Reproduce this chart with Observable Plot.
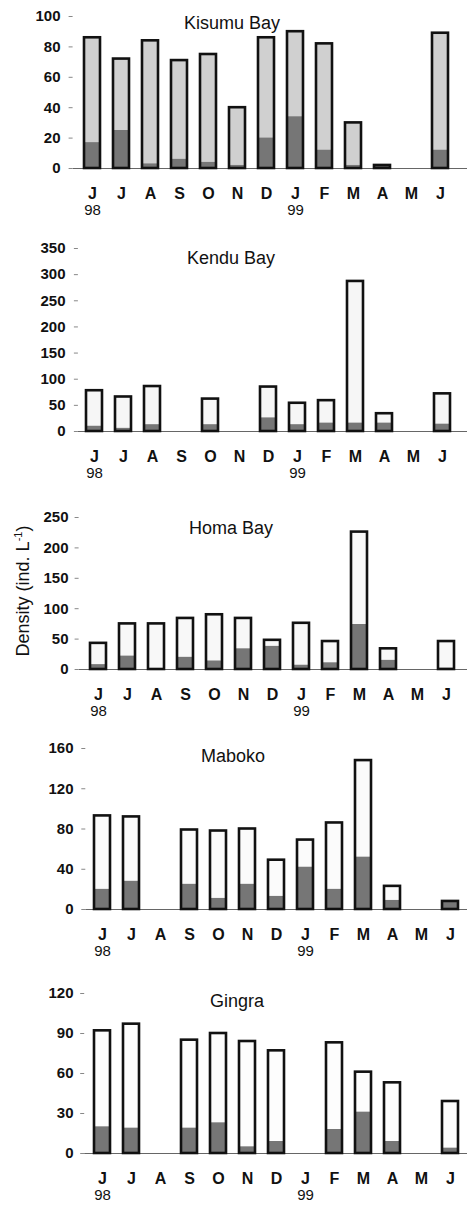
<!DOCTYPE html>
<html><head><meta charset="utf-8">
<script src="https://cdn.jsdelivr.net/npm/d3@7"></script>
<script src="https://cdn.jsdelivr.net/npm/@observablehq/plot@0.6"></script>
<style>
body{margin:0;background:#fff;font-family:"Liberation Sans",Arial,sans-serif;}
#root{position:relative;width:467px;height:1205px;overflow:hidden;}
.panel{position:absolute;left:0;}
.panel svg{overflow:visible;}
.title{position:absolute;font-size:18px;line-height:1;transform:translate(-50%,-50%);white-space:nowrap;color:#111;}
.ylab{position:absolute;font-size:18px;line-height:1;white-space:nowrap;transform:translate(-50%,-50%) rotate(-90deg);color:#111;}
.ylab sup{font-size:11px;vertical-align:7px;}
</style></head>
<body><div id="root"></div>
<script>
// ---- data ----
const months = ["Jun98","Jul98","Aug98","Sep98","Oct98","Nov98","Dec98","Jan99","Feb99","Mar99","Apr99","May99","Jun99"];
const monthLabels = ["J","J","A","S","O","N","D","J","F","M","A","M","J"];
const yearLabels = ["98","","","","","","","99","","","","",""];
const stations = ["Kisumu Bay","Kendu Bay","Homa Bay","Maboko","Gingra"];

const kisumuTotal = [86,72,84,71,75,40,86,90,82,30,2,0,89];
const kisumuDark  = [17,25,3,6,4,2,20,34,12,2,2,0,12];
const kenduTotal  = [78,66,86,0,62,0,85,54,59,287,34,0,72];
const kenduDark   = [10,6,13,0,13,0,26,13,16,16,16,0,14];
const homaTotal   = [43,75,75,84,90,84,48,76,46,226,34,0,46];
const homaDark    = [8,22,1,20,14,34,38,7,11,74,15,0,2];
const mabokoTotal = [93,92,0,79,78,80,49,69,86,148,23,0,8];
const mabokoDark  = [20,28,0,25,11,25,13,42,20,52,9,0,8];
const gingraTotal = [92,97,0,85,90,84,77,0,83,61,53,0,39];
const gingraDark  = [20,19,0,19,23,5,9,0,18,31,9,0,4];

const kisumuTicks = [0,20,40,60,80,100];
const kenduTicks  = [0,50,100,150,200,250,300,350];
const homaTicks   = [0,50,100,150,200,250];
const mabokoTicks = [0,40,80,120,160];
const gingraTicks = [0,30,60,90,120];

const yTitle = "Density (ind. L";

// ---- layout / style ----
const series = [
  {total:kisumuTotal, dark:kisumuDark, ticks:kisumuTicks},
  {total:kenduTotal, dark:kenduDark, ticks:kenduTicks},
  {total:homaTotal, dark:homaDark, ticks:homaTicks},
  {total:mabokoTotal, dark:mabokoDark, ticks:mabokoTicks},
  {total:gingraTotal, dark:gingraDark, ticks:gingraTicks}
];
const layout = [
  {zero:168, top:16,  x0:72.6, x1:460,   labelRight:60, titleX:232, titleY:23,  upper:"#d0d0d0"},
  {zero:431, top:248, x0:77.9, x1:458.6, labelRight:65, titleX:231, titleY:258, upper:"#f6f6f6"},
  {zero:669, top:517, x0:78.6, x1:465,   labelRight:68, titleX:231, titleY:528, upper:"#f8f8f8"},
  {zero:909, top:748, x0:85.3, x1:466.7, labelRight:73, titleX:233, titleY:756, upper:"#fbfbfb"},
  {zero:1153,top:993, x0:84.2, x1:468,   labelRight:73, titleX:237, titleY:1001,upper:"#fdfdfd"}
];

const root = document.getElementById("root");

stations.forEach((name, i) => {
  const s = series[i], L = layout[i];
  const rows = months.map((m, j) => ({month:m, total:s.total[j], dark:s.dark[j]}));
  const nonzero = rows.filter(d => d.total > 0);
  const mt = 10, mb = 50;
  const svgTop = L.top - mt;
  const height = (L.zero - L.top) + mt + mb;
  const chart = Plot.plot({
    width: 467,
    height,
    marginTop: mt,
    marginBottom: mb,
    marginLeft: L.x0,
    marginRight: 0,
    style: {fontFamily: '"Liberation Sans", Arial, sans-serif', color:"#111", background:"transparent"},
    x: {domain: months, range: [L.x0, L.x1], paddingInner: 0.46, paddingOuter: 0.23},
    y: {domain: [0, s.ticks[s.ticks.length - 1]]},
    marks: [
      Plot.ruleY([0], {stroke:"#666", strokeWidth:1}),
      Plot.barY(nonzero, {x:"month", y:"total", fill:L.upper}),
      Plot.barY(nonzero.filter(d => d.dark > 0), {x:"month", y:"dark", fill:"#767676"}),
      Plot.barY(nonzero, {x:"month", y:"total", fill:"none", stroke:"#111", strokeWidth:2.6}),
      Plot.axisY({ticks: s.ticks, tickSize: 4, tickPadding: L.x0 - 4 - L.labelRight, stroke:"#888",
        fontSize: 15, fontWeight: "bold", label: null, tickFormat: d => String(d)}),
      Plot.axisX({tickSize: 0, tickPadding: 19, fontSize: 16, fontWeight: "bold", label: null,
        tickFormat: d => monthLabels[months.indexOf(d)]}),
      Plot.axisX({tickSize: 0, tickPadding: 36, fontSize: 15, label: null,
        tickFormat: d => yearLabels[months.indexOf(d)]})
    ]
  });
  const div = document.createElement("div");
  div.className = "panel";
  div.style.top = svgTop + "px";
  div.appendChild(chart);
  root.appendChild(div);

  const t = document.createElement("div");
  t.className = "title";
  t.style.left = L.titleX + "px";
  t.style.top = L.titleY + "px";
  t.textContent = name;
  root.appendChild(t);
});

const yl = document.createElement("div");
yl.className = "ylab";
yl.style.left = "22px";
yl.style.top = "591px";
yl.innerHTML = yTitle + "<sup>-1</sup>)";
root.appendChild(yl);
</script>
</body></html>
